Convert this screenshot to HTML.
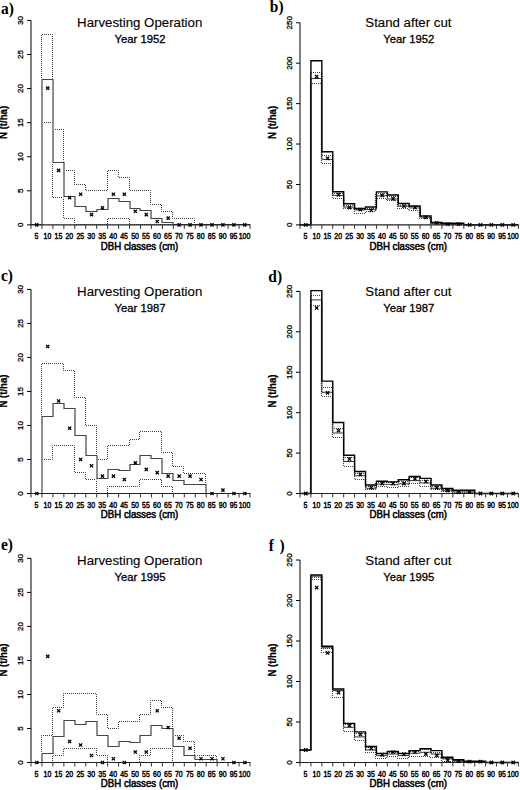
<!DOCTYPE html><html><head><meta charset="utf-8"><style>html,body{margin:0;padding:0;background:#fff;}svg{display:block;}text{font-family:"Liberation Sans",sans-serif;}</style></head><body>
<svg width="520" height="790" viewBox="0 0 520 790">
<rect width="520" height="790" fill="#fff"/>
<g><text transform="translate(23 224.9) rotate(-90)" font-size="8" stroke="#000" stroke-width="0.3" text-anchor="middle">0</text><text transform="translate(23 190.82) rotate(-90)" font-size="8" stroke="#000" stroke-width="0.3" text-anchor="middle">5</text><text transform="translate(23 156.73) rotate(-90)" font-size="8" stroke="#000" stroke-width="0.3" text-anchor="middle">10</text><text transform="translate(23 122.65) rotate(-90)" font-size="8" stroke="#000" stroke-width="0.3" text-anchor="middle">15</text><text transform="translate(23 88.57) rotate(-90)" font-size="8" stroke="#000" stroke-width="0.3" text-anchor="middle">20</text><text transform="translate(23 54.48) rotate(-90)" font-size="8" stroke="#000" stroke-width="0.3" text-anchor="middle">25</text><text transform="translate(23 20.4) rotate(-90)" font-size="8" stroke="#000" stroke-width="0.3" text-anchor="middle">30</text><text transform="translate(36.48 238.9) scale(0.82 1)" font-size="8.5" stroke="#000" stroke-width="0.45" text-anchor="middle">5</text><text transform="translate(47.43 238.9) scale(0.82 1)" font-size="8.5" stroke="#000" stroke-width="0.45" text-anchor="middle">10</text><text transform="translate(58.38 238.9) scale(0.82 1)" font-size="8.5" stroke="#000" stroke-width="0.45" text-anchor="middle">15</text><text transform="translate(69.32 238.9) scale(0.82 1)" font-size="8.5" stroke="#000" stroke-width="0.45" text-anchor="middle">20</text><text transform="translate(80.27 238.9) scale(0.82 1)" font-size="8.5" stroke="#000" stroke-width="0.45" text-anchor="middle">25</text><text transform="translate(91.22 238.9) scale(0.82 1)" font-size="8.5" stroke="#000" stroke-width="0.45" text-anchor="middle">30</text><text transform="translate(102.17 238.9) scale(0.82 1)" font-size="8.5" stroke="#000" stroke-width="0.45" text-anchor="middle">35</text><text transform="translate(113.12 238.9) scale(0.82 1)" font-size="8.5" stroke="#000" stroke-width="0.45" text-anchor="middle">40</text><text transform="translate(124.07 238.9) scale(0.82 1)" font-size="8.5" stroke="#000" stroke-width="0.45" text-anchor="middle">45</text><text transform="translate(135.03 238.9) scale(0.82 1)" font-size="8.5" stroke="#000" stroke-width="0.45" text-anchor="middle">50</text><text transform="translate(145.97 238.9) scale(0.82 1)" font-size="8.5" stroke="#000" stroke-width="0.45" text-anchor="middle">55</text><text transform="translate(156.92 238.9) scale(0.82 1)" font-size="8.5" stroke="#000" stroke-width="0.45" text-anchor="middle">60</text><text transform="translate(167.87 238.9) scale(0.82 1)" font-size="8.5" stroke="#000" stroke-width="0.45" text-anchor="middle">65</text><text transform="translate(178.82 238.9) scale(0.82 1)" font-size="8.5" stroke="#000" stroke-width="0.45" text-anchor="middle">70</text><text transform="translate(189.77 238.9) scale(0.82 1)" font-size="8.5" stroke="#000" stroke-width="0.45" text-anchor="middle">75</text><text transform="translate(200.72 238.9) scale(0.82 1)" font-size="8.5" stroke="#000" stroke-width="0.45" text-anchor="middle">80</text><text transform="translate(211.67 238.9) scale(0.82 1)" font-size="8.5" stroke="#000" stroke-width="0.45" text-anchor="middle">85</text><text transform="translate(222.62 238.9) scale(0.82 1)" font-size="8.5" stroke="#000" stroke-width="0.45" text-anchor="middle">90</text><text transform="translate(233.57 238.9) scale(0.82 1)" font-size="8.5" stroke="#000" stroke-width="0.45" text-anchor="middle">95</text><text transform="translate(244.52 238.9) scale(0.82 1)" font-size="8.5" stroke="#000" stroke-width="0.45" text-anchor="middle">100</text><text transform="translate(139.5 249.5) scale(0.97 1)" font-size="10" stroke="#000" stroke-width="0.5" text-anchor="middle">DBH classes (cm)</text><text transform="translate(7.4 122.4) rotate(-90) scale(0.96 1)" font-size="10" font-weight="bold" stroke="#000" stroke-width="0.25" text-anchor="middle">N (t/ha)</text><text x="139.7" y="27.2" font-size="13.25" stroke="#000" stroke-width="0.12" text-anchor="middle">Harvesting Operation</text><text x="140.1" y="43" font-size="11.3" stroke="#000" stroke-width="0.3" text-anchor="middle">Year 1952</text><text transform="translate(1 13.9) scale(1 1.12)" font-size="15.5" font-weight="bold" style="font-family:'Liberation Serif',serif">a)</text><path d="M30.5 224.5H41.5V34.5H52.5V129.5H63.5V170.5H74.5V184.5H85.5V190.5H96.5V190.5H107.5V170.5H118.5V177.5H129.5V190.5H139.5V190.5H150.5V204.5H161.5V211.5H172.5V218.5H183.5V218.5H194.5V224.5H205.5V224.5H216.5V224.5H227.5V224.5H238.5V224.5H249.5" stroke="#3a3a3a" stroke-width="1" fill="none" stroke-dasharray="1 1" stroke-dashoffset="0.5"/><path d="M30.5 224.5H41.5V122.5H52.5V197.5H63.5V218.5H74.5V224.5H85.5V224.5H96.5V224.5H107.5V218.5H118.5V218.5H129.5V224.5H139.5V224.5H150.5V224.5H161.5V224.5H172.5V224.5H183.5V224.5H194.5V224.5H205.5V224.5H216.5V224.5H227.5V224.5H238.5V224.5H249.5" stroke="#3a3a3a" stroke-width="1" fill="none" stroke-dasharray="1 1" stroke-dashoffset="0.5"/><path d="M31 224.5H42V79.5H53V162.5H64V196.5H75V206.5H86V211.5H97V209.5H108V198.5H119V201.5H130V208.5H140V210.5H151V218.5H162V222.5H173V224.5H184V224.5H195V224.5H206V224.5H217V224.5H228V224.5H239V224.5H250" stroke="#fff" stroke-width="2" fill="none"/><path d="M31 224.5H42V79.5H53V162.5H64V196.5H75V206.5H86V211.5H97V209.5H108V198.5H119V201.5H130V208.5H140V210.5H151V218.5H162V222.5H173V224.5H184V224.5H195V224.5H206V224.5H217V224.5H228V224.5H239V224.5H250" stroke="#444" stroke-width="1.2" fill="none"/><path d="M31 20.4V224.9" stroke="#000" stroke-width="1" fill="none"/><path d="M27 224.9H31M27 190.82H31M27 156.73H31M27 122.65H31M27 88.57H31M27 54.48H31M27 20.4H31" stroke="#000" stroke-width="1" fill="none"/><path d="M30.5 224.9H250.5" stroke="#222" stroke-width="1.2" fill="none"/><path d="M31 224.9V228.9M41.95 224.9V228.9M52.9 224.9V228.9M63.85 224.9V228.9M74.8 224.9V228.9M85.75 224.9V228.9M96.7 224.9V228.9M107.65 224.9V228.9M118.6 224.9V228.9M129.55 224.9V228.9M140.5 224.9V228.9M151.45 224.9V228.9M162.4 224.9V228.9M173.35 224.9V228.9M184.3 224.9V228.9M195.25 224.9V228.9M206.2 224.9V228.9M217.15 224.9V228.9M228.1 224.9V228.9M239.05 224.9V228.9M250 224.9V228.9" stroke="#333" stroke-width="1" fill="none"/><path d="M35.17 223.3l3.2 3.2m0 -3.2l-3.2 3.2M46.12 86.49l3.2 3.2m0 -3.2l-3.2 3.2M57.07 168.77l3.2 3.2m0 -3.2l-3.2 3.2M68.02 196.03l3.2 3.2m0 -3.2l-3.2 3.2M78.97 192.63l3.2 3.2m0 -3.2l-3.2 3.2M89.92 213.08l3.2 3.2m0 -3.2l-3.2 3.2M100.87 206.26l3.2 3.2m0 -3.2l-3.2 3.2M111.82 192.63l3.2 3.2m0 -3.2l-3.2 3.2M122.77 192.63l3.2 3.2m0 -3.2l-3.2 3.2M133.73 209.67l3.2 3.2m0 -3.2l-3.2 3.2M144.68 213.08l3.2 3.2m0 -3.2l-3.2 3.2M155.62 219.89l3.2 3.2m0 -3.2l-3.2 3.2M166.57 216.48l3.2 3.2m0 -3.2l-3.2 3.2M177.53 223.3l3.2 3.2m0 -3.2l-3.2 3.2M188.47 223.3l3.2 3.2m0 -3.2l-3.2 3.2M199.43 223.3l3.2 3.2m0 -3.2l-3.2 3.2M210.38 223.3l3.2 3.2m0 -3.2l-3.2 3.2M221.32 223.3l3.2 3.2m0 -3.2l-3.2 3.2M232.28 223.3l3.2 3.2m0 -3.2l-3.2 3.2M243.22 223.3l3.2 3.2m0 -3.2l-3.2 3.2" stroke="#000" stroke-width="1.3" fill="none"/></g>
<g><text transform="translate(292 224.9) rotate(-90)" font-size="8" stroke="#000" stroke-width="0.3" text-anchor="middle">0</text><text transform="translate(292 184.47) rotate(-90)" font-size="8" stroke="#000" stroke-width="0.3" text-anchor="middle">50</text><text transform="translate(292 144.04) rotate(-90)" font-size="8" stroke="#000" stroke-width="0.3" text-anchor="middle">100</text><text transform="translate(292 103.61) rotate(-90)" font-size="8" stroke="#000" stroke-width="0.3" text-anchor="middle">150</text><text transform="translate(292 63.18) rotate(-90)" font-size="8" stroke="#000" stroke-width="0.3" text-anchor="middle">200</text><text transform="translate(292 22.75) rotate(-90)" font-size="8" stroke="#000" stroke-width="0.3" text-anchor="middle">250</text><text transform="translate(305.46 238.9) scale(0.82 1)" font-size="8.5" stroke="#000" stroke-width="0.45" text-anchor="middle">5</text><text transform="translate(316.38 238.9) scale(0.82 1)" font-size="8.5" stroke="#000" stroke-width="0.45" text-anchor="middle">10</text><text transform="translate(327.3 238.9) scale(0.82 1)" font-size="8.5" stroke="#000" stroke-width="0.45" text-anchor="middle">15</text><text transform="translate(338.22 238.9) scale(0.82 1)" font-size="8.5" stroke="#000" stroke-width="0.45" text-anchor="middle">20</text><text transform="translate(349.14 238.9) scale(0.82 1)" font-size="8.5" stroke="#000" stroke-width="0.45" text-anchor="middle">25</text><text transform="translate(360.06 238.9) scale(0.82 1)" font-size="8.5" stroke="#000" stroke-width="0.45" text-anchor="middle">30</text><text transform="translate(370.98 238.9) scale(0.82 1)" font-size="8.5" stroke="#000" stroke-width="0.45" text-anchor="middle">35</text><text transform="translate(381.9 238.9) scale(0.82 1)" font-size="8.5" stroke="#000" stroke-width="0.45" text-anchor="middle">40</text><text transform="translate(392.82 238.9) scale(0.82 1)" font-size="8.5" stroke="#000" stroke-width="0.45" text-anchor="middle">45</text><text transform="translate(403.74 238.9) scale(0.82 1)" font-size="8.5" stroke="#000" stroke-width="0.45" text-anchor="middle">50</text><text transform="translate(414.66 238.9) scale(0.82 1)" font-size="8.5" stroke="#000" stroke-width="0.45" text-anchor="middle">55</text><text transform="translate(425.58 238.9) scale(0.82 1)" font-size="8.5" stroke="#000" stroke-width="0.45" text-anchor="middle">60</text><text transform="translate(436.5 238.9) scale(0.82 1)" font-size="8.5" stroke="#000" stroke-width="0.45" text-anchor="middle">65</text><text transform="translate(447.42 238.9) scale(0.82 1)" font-size="8.5" stroke="#000" stroke-width="0.45" text-anchor="middle">70</text><text transform="translate(458.34 238.9) scale(0.82 1)" font-size="8.5" stroke="#000" stroke-width="0.45" text-anchor="middle">75</text><text transform="translate(469.26 238.9) scale(0.82 1)" font-size="8.5" stroke="#000" stroke-width="0.45" text-anchor="middle">80</text><text transform="translate(480.18 238.9) scale(0.82 1)" font-size="8.5" stroke="#000" stroke-width="0.45" text-anchor="middle">85</text><text transform="translate(491.1 238.9) scale(0.82 1)" font-size="8.5" stroke="#000" stroke-width="0.45" text-anchor="middle">90</text><text transform="translate(502.02 238.9) scale(0.82 1)" font-size="8.5" stroke="#000" stroke-width="0.45" text-anchor="middle">95</text><text transform="translate(512.94 238.9) scale(0.82 1)" font-size="8.5" stroke="#000" stroke-width="0.45" text-anchor="middle">100</text><text transform="translate(408.2 249.5) scale(0.97 1)" font-size="10" stroke="#000" stroke-width="0.5" text-anchor="middle">DBH classes (cm)</text><text transform="translate(276.4 122.4) rotate(-90) scale(0.96 1)" font-size="10" font-weight="bold" stroke="#000" stroke-width="0.25" text-anchor="middle">N (t/ha)</text><text x="408.4" y="27.2" font-size="13.25" stroke="#000" stroke-width="0.12" text-anchor="middle">Stand after cut</text><text x="408.8" y="43" font-size="11.3" stroke="#000" stroke-width="0.3" text-anchor="middle">Year 1952</text><text transform="translate(269.8 12.1) scale(1 1.12)" font-size="15.5" font-weight="bold" style="font-family:'Liberation Serif',serif">b)</text><path d="M299.5 224.5H310.5V72.5H321.5V155.5H332.5V193.5H343.5V205.5H354.5V209.5H365.5V208.5H375.5V193.5H386.5V196.5H397.5V205.5H408.5V206.5H419.5V216.5H430.5V222.5H441.5V223.5H452.5V223.5H463.5V224.5H474.5V224.5H485.5V224.5H496.5V224.5H506.5V224.5H517.5" stroke="#444" stroke-width="1.2" fill="none" stroke-dasharray="1 1" stroke-dashoffset="0.5"/><path d="M299.5 224.5H310.5V83.5H321.5V163.5H332.5V198.5H343.5V208.5H354.5V213.5H365.5V211.5H375.5V198.5H386.5V200.5H397.5V208.5H408.5V210.5H419.5V218.5H430.5V223.5H441.5V224.5H452.5V224.5H463.5V224.5H474.5V224.5H485.5V224.5H496.5V224.5H506.5V224.5H517.5" stroke="#444" stroke-width="1.2" fill="none" stroke-dasharray="1 1" stroke-dashoffset="0.5"/><path d="M300 224.9H310.92V78.54H321.84V159.4H332.76V195.39H343.68V207.11H354.6V209.94H365.52V209.54H376.44V195.79H387.36V199.02H398.28V206.3H409.2V207.92H420.12V217.22H431.04V223.28H441.96V224.09H452.88V224.09H463.8V224.9H474.72V224.9H485.64V224.9H496.56V224.9H507.48V224.9H518.4" stroke="#222" stroke-width="0.9" fill="none"/><path d="M300 224.9H310.92V60.75H321.84V151.72H332.76V191.75H343.68V203.71H354.6V208.57H365.52V206.95H376.44V191.91H387.36V194.98H398.28V203.55H409.2V206.06H420.12V215.84H431.04V222.39H441.96V223.28H452.88V223.28H463.8V224.9H474.72V224.9H485.64V224.9H496.56V224.9H507.48V224.9H518.4" stroke="#000" stroke-width="1.4" fill="none"/><path d="M300 22.75V224.9" stroke="#000" stroke-width="1" fill="none"/><path d="M296 224.9H300M296 184.47H300M296 144.04H300M296 103.61H300M296 63.18H300M296 22.75H300" stroke="#000" stroke-width="1" fill="none"/><path d="M299.5 224.9H518.9" stroke="#222" stroke-width="1.2" fill="none"/><path d="M300 224.9V228.9M310.92 224.9V228.9M321.84 224.9V228.9M332.76 224.9V228.9M343.68 224.9V228.9M354.6 224.9V228.9M365.52 224.9V228.9M376.44 224.9V228.9M387.36 224.9V228.9M398.28 224.9V228.9M409.2 224.9V228.9M420.12 224.9V228.9M431.04 224.9V228.9M441.96 224.9V228.9M452.88 224.9V228.9M463.8 224.9V228.9M474.72 224.9V228.9M485.64 224.9V228.9M496.56 224.9V228.9M507.48 224.9V228.9M518.4 224.9V228.9" stroke="#333" stroke-width="1" fill="none"/><path d="M304.06 223.2l3.4 3.4m0 -3.4l-3.4 3.4M314.98 74.9l3.4 3.4m0 -3.4l-3.4 3.4M325.9 156.65l3.4 3.4m0 -3.4l-3.4 3.4M336.82 193.04l3.4 3.4m0 -3.4l-3.4 3.4M347.74 205.98l3.4 3.4m0 -3.4l-3.4 3.4M358.66 207.84l3.4 3.4m0 -3.4l-3.4 3.4M369.58 208.73l3.4 3.4m0 -3.4l-3.4 3.4M380.5 193.69l3.4 3.4m0 -3.4l-3.4 3.4M391.42 197.08l3.4 3.4m0 -3.4l-3.4 3.4M402.34 204.36l3.4 3.4m0 -3.4l-3.4 3.4M413.26 205.9l3.4 3.4m0 -3.4l-3.4 3.4M424.18 215.68l3.4 3.4m0 -3.4l-3.4 3.4M435.1 221.26l3.4 3.4m0 -3.4l-3.4 3.4M446.02 222.39l3.4 3.4m0 -3.4l-3.4 3.4M456.94 222.39l3.4 3.4m0 -3.4l-3.4 3.4M467.86 223.2l3.4 3.4m0 -3.4l-3.4 3.4M478.78 223.2l3.4 3.4m0 -3.4l-3.4 3.4M489.7 223.2l3.4 3.4m0 -3.4l-3.4 3.4M500.62 223.2l3.4 3.4m0 -3.4l-3.4 3.4M511.54 223.2l3.4 3.4m0 -3.4l-3.4 3.4" stroke="#000" stroke-width="1.3" fill="none"/></g>
<g><text transform="translate(23 493.5) rotate(-90)" font-size="8" stroke="#000" stroke-width="0.3" text-anchor="middle">0</text><text transform="translate(23 459.48) rotate(-90)" font-size="8" stroke="#000" stroke-width="0.3" text-anchor="middle">5</text><text transform="translate(23 425.47) rotate(-90)" font-size="8" stroke="#000" stroke-width="0.3" text-anchor="middle">10</text><text transform="translate(23 391.45) rotate(-90)" font-size="8" stroke="#000" stroke-width="0.3" text-anchor="middle">15</text><text transform="translate(23 357.43) rotate(-90)" font-size="8" stroke="#000" stroke-width="0.3" text-anchor="middle">20</text><text transform="translate(23 323.42) rotate(-90)" font-size="8" stroke="#000" stroke-width="0.3" text-anchor="middle">25</text><text transform="translate(23 289.4) rotate(-90)" font-size="8" stroke="#000" stroke-width="0.3" text-anchor="middle">30</text><text transform="translate(36.48 507.5) scale(0.82 1)" font-size="8.5" stroke="#000" stroke-width="0.45" text-anchor="middle">5</text><text transform="translate(47.43 507.5) scale(0.82 1)" font-size="8.5" stroke="#000" stroke-width="0.45" text-anchor="middle">10</text><text transform="translate(58.38 507.5) scale(0.82 1)" font-size="8.5" stroke="#000" stroke-width="0.45" text-anchor="middle">15</text><text transform="translate(69.32 507.5) scale(0.82 1)" font-size="8.5" stroke="#000" stroke-width="0.45" text-anchor="middle">20</text><text transform="translate(80.27 507.5) scale(0.82 1)" font-size="8.5" stroke="#000" stroke-width="0.45" text-anchor="middle">25</text><text transform="translate(91.22 507.5) scale(0.82 1)" font-size="8.5" stroke="#000" stroke-width="0.45" text-anchor="middle">30</text><text transform="translate(102.17 507.5) scale(0.82 1)" font-size="8.5" stroke="#000" stroke-width="0.45" text-anchor="middle">35</text><text transform="translate(113.12 507.5) scale(0.82 1)" font-size="8.5" stroke="#000" stroke-width="0.45" text-anchor="middle">40</text><text transform="translate(124.07 507.5) scale(0.82 1)" font-size="8.5" stroke="#000" stroke-width="0.45" text-anchor="middle">45</text><text transform="translate(135.03 507.5) scale(0.82 1)" font-size="8.5" stroke="#000" stroke-width="0.45" text-anchor="middle">50</text><text transform="translate(145.97 507.5) scale(0.82 1)" font-size="8.5" stroke="#000" stroke-width="0.45" text-anchor="middle">55</text><text transform="translate(156.92 507.5) scale(0.82 1)" font-size="8.5" stroke="#000" stroke-width="0.45" text-anchor="middle">60</text><text transform="translate(167.87 507.5) scale(0.82 1)" font-size="8.5" stroke="#000" stroke-width="0.45" text-anchor="middle">65</text><text transform="translate(178.82 507.5) scale(0.82 1)" font-size="8.5" stroke="#000" stroke-width="0.45" text-anchor="middle">70</text><text transform="translate(189.77 507.5) scale(0.82 1)" font-size="8.5" stroke="#000" stroke-width="0.45" text-anchor="middle">75</text><text transform="translate(200.72 507.5) scale(0.82 1)" font-size="8.5" stroke="#000" stroke-width="0.45" text-anchor="middle">80</text><text transform="translate(211.67 507.5) scale(0.82 1)" font-size="8.5" stroke="#000" stroke-width="0.45" text-anchor="middle">85</text><text transform="translate(222.62 507.5) scale(0.82 1)" font-size="8.5" stroke="#000" stroke-width="0.45" text-anchor="middle">90</text><text transform="translate(233.57 507.5) scale(0.82 1)" font-size="8.5" stroke="#000" stroke-width="0.45" text-anchor="middle">95</text><text transform="translate(244.52 507.5) scale(0.82 1)" font-size="8.5" stroke="#000" stroke-width="0.45" text-anchor="middle">100</text><text transform="translate(139.5 518.1) scale(0.97 1)" font-size="10" stroke="#000" stroke-width="0.5" text-anchor="middle">DBH classes (cm)</text><text transform="translate(7.4 391) rotate(-90) scale(0.96 1)" font-size="10" font-weight="bold" stroke="#000" stroke-width="0.25" text-anchor="middle">N (t/ha)</text><text x="139.7" y="296.2" font-size="13.25" stroke="#000" stroke-width="0.12" text-anchor="middle">Harvesting Operation</text><text x="140.1" y="312" font-size="11.3" stroke="#000" stroke-width="0.3" text-anchor="middle">Year 1987</text><text transform="translate(1 281.4) scale(1 1.12)" font-size="15.5" font-weight="bold" style="font-family:'Liberation Serif',serif">c)</text><path d="M30.5 493.5H41.5V363.5H52.5V363.5H63.5V370.5H74.5V397.5H85.5V425.5H96.5V459.5H107.5V445.5H118.5V445.5H129.5V439.5H139.5V431.5H150.5V431.5H161.5V452.5H172.5V466.5H183.5V473.5H194.5V473.5H205.5V493.5H216.5V493.5H227.5V493.5H238.5V493.5H249.5" stroke="#3a3a3a" stroke-width="1" fill="none" stroke-dasharray="1 1" stroke-dashoffset="0.5"/><path d="M30.5 493.5H41.5V459.5H52.5V445.5H63.5V445.5H74.5V472.5H85.5V479.5H96.5V493.5H107.5V486.5H118.5V486.5H129.5V486.5H139.5V479.5H150.5V479.5H161.5V486.5H172.5V493.5H183.5V493.5H194.5V493.5H205.5V493.5H216.5V493.5H227.5V493.5H238.5V493.5H249.5" stroke="#3a3a3a" stroke-width="1" fill="none" stroke-dasharray="1 1" stroke-dashoffset="0.5"/><path d="M31 493.5H42V416.5H53V403.5H64V408.5H75V435.5H86V455.5H97V478.5H108V469.5H119V470.5H130V464.5H140V455.5H151V458.5H162V473.5H173V480.5H184V484.5H195V484.5H206V493.5H217V493.5H228V493.5H239V493.5H250" stroke="#fff" stroke-width="2" fill="none"/><path d="M31 493.5H42V416.5H53V403.5H64V408.5H75V435.5H86V455.5H97V478.5H108V469.5H119V470.5H130V464.5H140V455.5H151V458.5H162V473.5H173V480.5H184V484.5H195V484.5H206V493.5H217V493.5H228V493.5H239V493.5H250" stroke="#444" stroke-width="1.2" fill="none"/><path d="M31 289.4V493.5" stroke="#000" stroke-width="1" fill="none"/><path d="M27 493.5H31M27 459.48H31M27 425.47H31M27 391.45H31M27 357.43H31M27 323.42H31M27 289.4H31" stroke="#000" stroke-width="1" fill="none"/><path d="M30.5 493.5H250.5" stroke="#222" stroke-width="1.2" fill="none"/><path d="M31 493.5V497.5M41.95 493.5V497.5M52.9 493.5V497.5M63.85 493.5V497.5M74.8 493.5V497.5M85.75 493.5V497.5M96.7 493.5V497.5M107.65 493.5V497.5M118.6 493.5V497.5M129.55 493.5V497.5M140.5 493.5V497.5M151.45 493.5V497.5M162.4 493.5V497.5M173.35 493.5V497.5M184.3 493.5V497.5M195.25 493.5V497.5M206.2 493.5V497.5M217.15 493.5V497.5M228.1 493.5V497.5M239.05 493.5V497.5M250 493.5V497.5" stroke="#333" stroke-width="1" fill="none"/><path d="M35.17 491.9l3.2 3.2m0 -3.2l-3.2 3.2M46.12 344.95l3.2 3.2m0 -3.2l-3.2 3.2M57.07 399.37l3.2 3.2m0 -3.2l-3.2 3.2M68.02 426.59l3.2 3.2m0 -3.2l-3.2 3.2M78.97 457.88l3.2 3.2m0 -3.2l-3.2 3.2M89.92 464.21l3.2 3.2m0 -3.2l-3.2 3.2M100.87 474.55l3.2 3.2m0 -3.2l-3.2 3.2M111.82 474.55l3.2 3.2m0 -3.2l-3.2 3.2M122.77 477.95l3.2 3.2m0 -3.2l-3.2 3.2M133.73 461.28l3.2 3.2m0 -3.2l-3.2 3.2M144.68 467.75l3.2 3.2m0 -3.2l-3.2 3.2M155.62 471.01l3.2 3.2m0 -3.2l-3.2 3.2M166.57 474.55l3.2 3.2m0 -3.2l-3.2 3.2M177.53 474.55l3.2 3.2m0 -3.2l-3.2 3.2M188.47 474.55l3.2 3.2m0 -3.2l-3.2 3.2M199.43 477.95l3.2 3.2m0 -3.2l-3.2 3.2M210.38 491.9l3.2 3.2m0 -3.2l-3.2 3.2M221.32 488.5l3.2 3.2m0 -3.2l-3.2 3.2M232.28 491.9l3.2 3.2m0 -3.2l-3.2 3.2M243.22 491.9l3.2 3.2m0 -3.2l-3.2 3.2" stroke="#000" stroke-width="1.3" fill="none"/></g>
<g><text transform="translate(292 493.5) rotate(-90)" font-size="8" stroke="#000" stroke-width="0.3" text-anchor="middle">0</text><text transform="translate(292 453.08) rotate(-90)" font-size="8" stroke="#000" stroke-width="0.3" text-anchor="middle">50</text><text transform="translate(292 412.66) rotate(-90)" font-size="8" stroke="#000" stroke-width="0.3" text-anchor="middle">100</text><text transform="translate(292 372.24) rotate(-90)" font-size="8" stroke="#000" stroke-width="0.3" text-anchor="middle">150</text><text transform="translate(292 331.82) rotate(-90)" font-size="8" stroke="#000" stroke-width="0.3" text-anchor="middle">200</text><text transform="translate(292 291.4) rotate(-90)" font-size="8" stroke="#000" stroke-width="0.3" text-anchor="middle">250</text><text transform="translate(305.46 507.5) scale(0.82 1)" font-size="8.5" stroke="#000" stroke-width="0.45" text-anchor="middle">5</text><text transform="translate(316.38 507.5) scale(0.82 1)" font-size="8.5" stroke="#000" stroke-width="0.45" text-anchor="middle">10</text><text transform="translate(327.3 507.5) scale(0.82 1)" font-size="8.5" stroke="#000" stroke-width="0.45" text-anchor="middle">15</text><text transform="translate(338.22 507.5) scale(0.82 1)" font-size="8.5" stroke="#000" stroke-width="0.45" text-anchor="middle">20</text><text transform="translate(349.14 507.5) scale(0.82 1)" font-size="8.5" stroke="#000" stroke-width="0.45" text-anchor="middle">25</text><text transform="translate(360.06 507.5) scale(0.82 1)" font-size="8.5" stroke="#000" stroke-width="0.45" text-anchor="middle">30</text><text transform="translate(370.98 507.5) scale(0.82 1)" font-size="8.5" stroke="#000" stroke-width="0.45" text-anchor="middle">35</text><text transform="translate(381.9 507.5) scale(0.82 1)" font-size="8.5" stroke="#000" stroke-width="0.45" text-anchor="middle">40</text><text transform="translate(392.82 507.5) scale(0.82 1)" font-size="8.5" stroke="#000" stroke-width="0.45" text-anchor="middle">45</text><text transform="translate(403.74 507.5) scale(0.82 1)" font-size="8.5" stroke="#000" stroke-width="0.45" text-anchor="middle">50</text><text transform="translate(414.66 507.5) scale(0.82 1)" font-size="8.5" stroke="#000" stroke-width="0.45" text-anchor="middle">55</text><text transform="translate(425.58 507.5) scale(0.82 1)" font-size="8.5" stroke="#000" stroke-width="0.45" text-anchor="middle">60</text><text transform="translate(436.5 507.5) scale(0.82 1)" font-size="8.5" stroke="#000" stroke-width="0.45" text-anchor="middle">65</text><text transform="translate(447.42 507.5) scale(0.82 1)" font-size="8.5" stroke="#000" stroke-width="0.45" text-anchor="middle">70</text><text transform="translate(458.34 507.5) scale(0.82 1)" font-size="8.5" stroke="#000" stroke-width="0.45" text-anchor="middle">75</text><text transform="translate(469.26 507.5) scale(0.82 1)" font-size="8.5" stroke="#000" stroke-width="0.45" text-anchor="middle">80</text><text transform="translate(480.18 507.5) scale(0.82 1)" font-size="8.5" stroke="#000" stroke-width="0.45" text-anchor="middle">85</text><text transform="translate(491.1 507.5) scale(0.82 1)" font-size="8.5" stroke="#000" stroke-width="0.45" text-anchor="middle">90</text><text transform="translate(502.02 507.5) scale(0.82 1)" font-size="8.5" stroke="#000" stroke-width="0.45" text-anchor="middle">95</text><text transform="translate(512.94 507.5) scale(0.82 1)" font-size="8.5" stroke="#000" stroke-width="0.45" text-anchor="middle">100</text><text transform="translate(408.2 518.1) scale(0.97 1)" font-size="10" stroke="#000" stroke-width="0.5" text-anchor="middle">DBH classes (cm)</text><text transform="translate(276.4 391) rotate(-90) scale(0.96 1)" font-size="10" font-weight="bold" stroke="#000" stroke-width="0.25" text-anchor="middle">N (t/ha)</text><text x="408.4" y="296.2" font-size="13.25" stroke="#000" stroke-width="0.12" text-anchor="middle">Stand after cut</text><text x="408.8" y="312" font-size="11.3" stroke="#000" stroke-width="0.3" text-anchor="middle">Year 1987</text><text transform="translate(268.3 281.6) scale(1 1.12)" font-size="15.5" font-weight="bold" style="font-family:'Liberation Serif',serif">d)</text><path d="M299.5 493.5H310.5V295.5H321.5V387.5H332.5V428.5H343.5V457.5H354.5V473.5H365.5V486.5H375.5V482.5H386.5V482.5H397.5V481.5H408.5V477.5H419.5V480.5H430.5V486.5H441.5V489.5H452.5V490.5H463.5V490.5H474.5V493.5H485.5V493.5H496.5V493.5H506.5V493.5H517.5" stroke="#444" stroke-width="1.2" fill="none" stroke-dasharray="1 1" stroke-dashoffset="0.5"/><path d="M299.5 493.5H310.5V305.5H321.5V396.5H332.5V437.5H343.5V466.5H354.5V479.5H365.5V489.5H375.5V486.5H386.5V487.5H397.5V486.5H408.5V483.5H419.5V486.5H430.5V489.5H441.5V491.5H452.5V492.5H463.5V492.5H474.5V493.5H485.5V493.5H496.5V493.5H506.5V493.5H517.5" stroke="#444" stroke-width="1.2" fill="none" stroke-dasharray="1 1" stroke-dashoffset="0.5"/><path d="M300 493.5H310.92V299.89H321.84V392.29H332.76V433.03H343.68V461.49H354.6V475.72H365.52V488.25H376.44V484.2H387.36V484.61H398.28V483.8H409.2V480.57H420.12V482.99H431.04V488.25H441.96V490.67H452.88V491.88H463.8V491.88H474.72V493.5H485.64V493.5H496.56V493.5H507.48V493.5H518.4" stroke="#222" stroke-width="0.9" fill="none"/><path d="M300 493.5H310.92V290.59H321.84V381.13H332.76V422.44H343.68V455.18H354.6V471.51H365.52V485.01H376.44V481.21H387.36V481.86H398.28V479.76H409.2V476.52H420.12V478.38H431.04V485.01H441.96V488.49H452.88V490.27H463.8V490.27H474.72V493.5H485.64V493.5H496.56V493.5H507.48V493.5H518.4" stroke="#000" stroke-width="1.4" fill="none"/><path d="M300 291.4V493.5" stroke="#000" stroke-width="1" fill="none"/><path d="M296 493.5H300M296 453.08H300M296 412.66H300M296 372.24H300M296 331.82H300M296 291.4H300" stroke="#000" stroke-width="1" fill="none"/><path d="M299.5 493.5H518.9" stroke="#222" stroke-width="1.2" fill="none"/><path d="M300 493.5V497.5M310.92 493.5V497.5M321.84 493.5V497.5M332.76 493.5V497.5M343.68 493.5V497.5M354.6 493.5V497.5M365.52 493.5V497.5M376.44 493.5V497.5M387.36 493.5V497.5M398.28 493.5V497.5M409.2 493.5V497.5M420.12 493.5V497.5M431.04 493.5V497.5M441.96 493.5V497.5M452.88 493.5V497.5M463.8 493.5V497.5M474.72 493.5V497.5M485.64 493.5V497.5M496.56 493.5V497.5M507.48 493.5V497.5M518.4 493.5V497.5" stroke="#333" stroke-width="1" fill="none"/><path d="M304.06 491.8l3.4 3.4m0 -3.4l-3.4 3.4M314.98 306.19l3.4 3.4m0 -3.4l-3.4 3.4M325.9 391.15l3.4 3.4m0 -3.4l-3.4 3.4M336.82 428.91l3.4 3.4m0 -3.4l-3.4 3.4M347.74 457.36l3.4 3.4m0 -3.4l-3.4 3.4M358.66 472.72l3.4 3.4m0 -3.4l-3.4 3.4M369.58 485.82l3.4 3.4m0 -3.4l-3.4 3.4M380.5 481.78l3.4 3.4m0 -3.4l-3.4 3.4M391.42 481.78l3.4 3.4m0 -3.4l-3.4 3.4M402.34 481.78l3.4 3.4m0 -3.4l-3.4 3.4M413.26 477.01l3.4 3.4m0 -3.4l-3.4 3.4M424.18 479.75l3.4 3.4m0 -3.4l-3.4 3.4M435.1 486.06l3.4 3.4m0 -3.4l-3.4 3.4M446.02 488.89l3.4 3.4m0 -3.4l-3.4 3.4M456.94 490.59l3.4 3.4m0 -3.4l-3.4 3.4M467.86 490.18l3.4 3.4m0 -3.4l-3.4 3.4M478.78 491.8l3.4 3.4m0 -3.4l-3.4 3.4M489.7 491.8l3.4 3.4m0 -3.4l-3.4 3.4M500.62 491.8l3.4 3.4m0 -3.4l-3.4 3.4M511.54 491.8l3.4 3.4m0 -3.4l-3.4 3.4" stroke="#000" stroke-width="1.3" fill="none"/></g>
<g><text transform="translate(23 762.5) rotate(-90)" font-size="8" stroke="#000" stroke-width="0.3" text-anchor="middle">0</text><text transform="translate(23 728.48) rotate(-90)" font-size="8" stroke="#000" stroke-width="0.3" text-anchor="middle">5</text><text transform="translate(23 694.47) rotate(-90)" font-size="8" stroke="#000" stroke-width="0.3" text-anchor="middle">10</text><text transform="translate(23 660.45) rotate(-90)" font-size="8" stroke="#000" stroke-width="0.3" text-anchor="middle">15</text><text transform="translate(23 626.43) rotate(-90)" font-size="8" stroke="#000" stroke-width="0.3" text-anchor="middle">20</text><text transform="translate(23 592.42) rotate(-90)" font-size="8" stroke="#000" stroke-width="0.3" text-anchor="middle">25</text><text transform="translate(23 558.4) rotate(-90)" font-size="8" stroke="#000" stroke-width="0.3" text-anchor="middle">30</text><text transform="translate(36.48 776.5) scale(0.82 1)" font-size="8.5" stroke="#000" stroke-width="0.45" text-anchor="middle">5</text><text transform="translate(47.43 776.5) scale(0.82 1)" font-size="8.5" stroke="#000" stroke-width="0.45" text-anchor="middle">10</text><text transform="translate(58.38 776.5) scale(0.82 1)" font-size="8.5" stroke="#000" stroke-width="0.45" text-anchor="middle">15</text><text transform="translate(69.32 776.5) scale(0.82 1)" font-size="8.5" stroke="#000" stroke-width="0.45" text-anchor="middle">20</text><text transform="translate(80.27 776.5) scale(0.82 1)" font-size="8.5" stroke="#000" stroke-width="0.45" text-anchor="middle">25</text><text transform="translate(91.22 776.5) scale(0.82 1)" font-size="8.5" stroke="#000" stroke-width="0.45" text-anchor="middle">30</text><text transform="translate(102.17 776.5) scale(0.82 1)" font-size="8.5" stroke="#000" stroke-width="0.45" text-anchor="middle">35</text><text transform="translate(113.12 776.5) scale(0.82 1)" font-size="8.5" stroke="#000" stroke-width="0.45" text-anchor="middle">40</text><text transform="translate(124.07 776.5) scale(0.82 1)" font-size="8.5" stroke="#000" stroke-width="0.45" text-anchor="middle">45</text><text transform="translate(135.03 776.5) scale(0.82 1)" font-size="8.5" stroke="#000" stroke-width="0.45" text-anchor="middle">50</text><text transform="translate(145.97 776.5) scale(0.82 1)" font-size="8.5" stroke="#000" stroke-width="0.45" text-anchor="middle">55</text><text transform="translate(156.92 776.5) scale(0.82 1)" font-size="8.5" stroke="#000" stroke-width="0.45" text-anchor="middle">60</text><text transform="translate(167.87 776.5) scale(0.82 1)" font-size="8.5" stroke="#000" stroke-width="0.45" text-anchor="middle">65</text><text transform="translate(178.82 776.5) scale(0.82 1)" font-size="8.5" stroke="#000" stroke-width="0.45" text-anchor="middle">70</text><text transform="translate(189.77 776.5) scale(0.82 1)" font-size="8.5" stroke="#000" stroke-width="0.45" text-anchor="middle">75</text><text transform="translate(200.72 776.5) scale(0.82 1)" font-size="8.5" stroke="#000" stroke-width="0.45" text-anchor="middle">80</text><text transform="translate(211.67 776.5) scale(0.82 1)" font-size="8.5" stroke="#000" stroke-width="0.45" text-anchor="middle">85</text><text transform="translate(222.62 776.5) scale(0.82 1)" font-size="8.5" stroke="#000" stroke-width="0.45" text-anchor="middle">90</text><text transform="translate(233.57 776.5) scale(0.82 1)" font-size="8.5" stroke="#000" stroke-width="0.45" text-anchor="middle">95</text><text transform="translate(244.52 776.5) scale(0.82 1)" font-size="8.5" stroke="#000" stroke-width="0.45" text-anchor="middle">100</text><text transform="translate(139.5 787.1) scale(0.97 1)" font-size="10" stroke="#000" stroke-width="0.5" text-anchor="middle">DBH classes (cm)</text><text transform="translate(7.4 660) rotate(-90) scale(0.96 1)" font-size="10" font-weight="bold" stroke="#000" stroke-width="0.25" text-anchor="middle">N (t/ha)</text><text x="139.7" y="565.2" font-size="13.25" stroke="#000" stroke-width="0.12" text-anchor="middle">Harvesting Operation</text><text x="140.1" y="581" font-size="11.3" stroke="#000" stroke-width="0.3" text-anchor="middle">Year 1995</text><text transform="translate(1 550.1) scale(1 1.12)" font-size="15.5" font-weight="bold" style="font-family:'Liberation Serif',serif">e)</text><path d="M30.5 762.5H41.5V735.5H52.5V707.5H63.5V693.5H74.5V693.5H85.5V693.5H96.5V714.5H107.5V728.5H118.5V721.5H129.5V721.5H139.5V714.5H150.5V700.5H161.5V707.5H172.5V735.5H183.5V741.5H194.5V755.5H205.5V755.5H216.5V762.5H227.5V762.5H238.5V762.5H249.5" stroke="#3a3a3a" stroke-width="1" fill="none" stroke-dasharray="1 1" stroke-dashoffset="0.5"/><path d="M30.5 762.5H41.5V762.5H52.5V755.5H63.5V748.5H74.5V748.5H85.5V748.5H96.5V755.5H107.5V762.5H118.5V762.5H129.5V762.5H139.5V755.5H150.5V748.5H161.5V748.5H172.5V762.5H183.5V762.5H194.5V762.5H205.5V762.5H216.5V762.5H227.5V762.5H238.5V762.5H249.5" stroke="#3a3a3a" stroke-width="1" fill="none" stroke-dasharray="1 1" stroke-dashoffset="0.5"/><path d="M31 762.5H42V753.5H53V736.5H64V720.5H75V724.5H86V721.5H97V735.5H108V746.5H119V741.5H130V742.5H140V735.5H151V725.5H162V728.5H173V746.5H184V755.5H195V759.5H206V759.5H217V762.5H228V762.5H239V762.5H250" stroke="#fff" stroke-width="2" fill="none"/><path d="M31 762.5H42V753.5H53V736.5H64V720.5H75V724.5H86V721.5H97V735.5H108V746.5H119V741.5H130V742.5H140V735.5H151V725.5H162V728.5H173V746.5H184V755.5H195V759.5H206V759.5H217V762.5H228V762.5H239V762.5H250" stroke="#444" stroke-width="1.2" fill="none"/><path d="M31 558.4V762.5" stroke="#000" stroke-width="1" fill="none"/><path d="M27 762.5H31M27 728.48H31M27 694.47H31M27 660.45H31M27 626.43H31M27 592.42H31M27 558.4H31" stroke="#000" stroke-width="1" fill="none"/><path d="M30.5 762.5H250.5" stroke="#222" stroke-width="1.2" fill="none"/><path d="M31 762.5V766.5M41.95 762.5V766.5M52.9 762.5V766.5M63.85 762.5V766.5M74.8 762.5V766.5M85.75 762.5V766.5M96.7 762.5V766.5M107.65 762.5V766.5M118.6 762.5V766.5M129.55 762.5V766.5M140.5 762.5V766.5M151.45 762.5V766.5M162.4 762.5V766.5M173.35 762.5V766.5M184.3 762.5V766.5M195.25 762.5V766.5M206.2 762.5V766.5M217.15 762.5V766.5M228.1 762.5V766.5M239.05 762.5V766.5M250 762.5V766.5" stroke="#333" stroke-width="1" fill="none"/><path d="M35.17 760.9l3.2 3.2m0 -3.2l-3.2 3.2M46.12 654.77l3.2 3.2m0 -3.2l-3.2 3.2M57.07 709.19l3.2 3.2m0 -3.2l-3.2 3.2M68.02 739.88l3.2 3.2m0 -3.2l-3.2 3.2M78.97 743.42l3.2 3.2m0 -3.2l-3.2 3.2M89.92 753.89l3.2 3.2m0 -3.2l-3.2 3.2M100.87 760.9l3.2 3.2m0 -3.2l-3.2 3.2M111.82 757.16l3.2 3.2m0 -3.2l-3.2 3.2M122.77 760.9l3.2 3.2m0 -3.2l-3.2 3.2M133.73 750.42l3.2 3.2m0 -3.2l-3.2 3.2M144.68 750.42l3.2 3.2m0 -3.2l-3.2 3.2M155.62 709.19l3.2 3.2m0 -3.2l-3.2 3.2M166.57 725.86l3.2 3.2m0 -3.2l-3.2 3.2M177.53 736.61l3.2 3.2m0 -3.2l-3.2 3.2M188.47 746.61l3.2 3.2m0 -3.2l-3.2 3.2M199.43 757.16l3.2 3.2m0 -3.2l-3.2 3.2M210.38 757.16l3.2 3.2m0 -3.2l-3.2 3.2M221.32 757.16l3.2 3.2m0 -3.2l-3.2 3.2M232.28 760.9l3.2 3.2m0 -3.2l-3.2 3.2M243.22 760.9l3.2 3.2m0 -3.2l-3.2 3.2" stroke="#000" stroke-width="1.3" fill="none"/></g>
<g><text transform="translate(292 762.5) rotate(-90)" font-size="8" stroke="#000" stroke-width="0.3" text-anchor="middle">0</text><text transform="translate(292 722) rotate(-90)" font-size="8" stroke="#000" stroke-width="0.3" text-anchor="middle">50</text><text transform="translate(292 681.5) rotate(-90)" font-size="8" stroke="#000" stroke-width="0.3" text-anchor="middle">100</text><text transform="translate(292 641) rotate(-90)" font-size="8" stroke="#000" stroke-width="0.3" text-anchor="middle">150</text><text transform="translate(292 600.5) rotate(-90)" font-size="8" stroke="#000" stroke-width="0.3" text-anchor="middle">200</text><text transform="translate(292 560) rotate(-90)" font-size="8" stroke="#000" stroke-width="0.3" text-anchor="middle">250</text><text transform="translate(305.46 776.5) scale(0.82 1)" font-size="8.5" stroke="#000" stroke-width="0.45" text-anchor="middle">5</text><text transform="translate(316.38 776.5) scale(0.82 1)" font-size="8.5" stroke="#000" stroke-width="0.45" text-anchor="middle">10</text><text transform="translate(327.3 776.5) scale(0.82 1)" font-size="8.5" stroke="#000" stroke-width="0.45" text-anchor="middle">15</text><text transform="translate(338.22 776.5) scale(0.82 1)" font-size="8.5" stroke="#000" stroke-width="0.45" text-anchor="middle">20</text><text transform="translate(349.14 776.5) scale(0.82 1)" font-size="8.5" stroke="#000" stroke-width="0.45" text-anchor="middle">25</text><text transform="translate(360.06 776.5) scale(0.82 1)" font-size="8.5" stroke="#000" stroke-width="0.45" text-anchor="middle">30</text><text transform="translate(370.98 776.5) scale(0.82 1)" font-size="8.5" stroke="#000" stroke-width="0.45" text-anchor="middle">35</text><text transform="translate(381.9 776.5) scale(0.82 1)" font-size="8.5" stroke="#000" stroke-width="0.45" text-anchor="middle">40</text><text transform="translate(392.82 776.5) scale(0.82 1)" font-size="8.5" stroke="#000" stroke-width="0.45" text-anchor="middle">45</text><text transform="translate(403.74 776.5) scale(0.82 1)" font-size="8.5" stroke="#000" stroke-width="0.45" text-anchor="middle">50</text><text transform="translate(414.66 776.5) scale(0.82 1)" font-size="8.5" stroke="#000" stroke-width="0.45" text-anchor="middle">55</text><text transform="translate(425.58 776.5) scale(0.82 1)" font-size="8.5" stroke="#000" stroke-width="0.45" text-anchor="middle">60</text><text transform="translate(436.5 776.5) scale(0.82 1)" font-size="8.5" stroke="#000" stroke-width="0.45" text-anchor="middle">65</text><text transform="translate(447.42 776.5) scale(0.82 1)" font-size="8.5" stroke="#000" stroke-width="0.45" text-anchor="middle">70</text><text transform="translate(458.34 776.5) scale(0.82 1)" font-size="8.5" stroke="#000" stroke-width="0.45" text-anchor="middle">75</text><text transform="translate(469.26 776.5) scale(0.82 1)" font-size="8.5" stroke="#000" stroke-width="0.45" text-anchor="middle">80</text><text transform="translate(480.18 776.5) scale(0.82 1)" font-size="8.5" stroke="#000" stroke-width="0.45" text-anchor="middle">85</text><text transform="translate(491.1 776.5) scale(0.82 1)" font-size="8.5" stroke="#000" stroke-width="0.45" text-anchor="middle">90</text><text transform="translate(502.02 776.5) scale(0.82 1)" font-size="8.5" stroke="#000" stroke-width="0.45" text-anchor="middle">95</text><text transform="translate(512.94 776.5) scale(0.82 1)" font-size="8.5" stroke="#000" stroke-width="0.45" text-anchor="middle">100</text><text transform="translate(408.2 787.1) scale(0.97 1)" font-size="10" stroke="#000" stroke-width="0.5" text-anchor="middle">DBH classes (cm)</text><text transform="translate(276.4 660) rotate(-90) scale(0.96 1)" font-size="10" font-weight="bold" stroke="#000" stroke-width="0.25" text-anchor="middle">N (t/ha)</text><text x="408.4" y="565.2" font-size="13.25" stroke="#000" stroke-width="0.12" text-anchor="middle">Stand after cut</text><text x="408.8" y="581" font-size="11.3" stroke="#000" stroke-width="0.3" text-anchor="middle">Year 1995</text><text transform="translate(268.8 550.9) scale(1 1.12)" font-size="15.5" font-weight="bold" style="font-family:'Liberation Serif',serif">f<tspan dx="5.5">)</tspan></text><path d="M299.5 750.5H310.5V577.5H321.5V648.5H332.5V690.5H343.5V724.5H354.5V733.5H365.5V747.5H375.5V753.5H386.5V752.5H397.5V753.5H408.5V751.5H419.5V749.5H430.5V752.5H441.5V758.5H452.5V760.5H463.5V761.5H474.5V761.5H485.5V762.5H496.5V762.5H506.5V762.5H517.5" stroke="#444" stroke-width="1.2" fill="none" stroke-dasharray="1 1" stroke-dashoffset="0.5"/><path d="M299.5 750.5H310.5V579.5H321.5V652.5H332.5V697.5H343.5V731.5H354.5V740.5H365.5V752.5H375.5V758.5H386.5V756.5H397.5V758.5H408.5V756.5H419.5V756.5H430.5V757.5H441.5V761.5H452.5V761.5H463.5V762.5H474.5V762.5H485.5V762.5H496.5V762.5H506.5V762.5H517.5" stroke="#444" stroke-width="1.2" fill="none" stroke-dasharray="1 1" stroke-dashoffset="0.5"/><path d="M300 750.03H310.92V576.2H321.84V647.72H332.76V690.65H343.68V727.26H354.6V736.9H365.52V750.03H376.44V755.62H387.36V754H398.28V755.62H409.2V753.18H420.12V752.29H431.04V754H441.96V758.86H452.88V760.88H463.8V761.85H474.72V761.85H485.64V762.5H496.56V762.5H507.48V762.5H518.4" stroke="#222" stroke-width="0.9" fill="none"/><path d="M300 750.03H310.92V574.99H321.84V646.26H332.76V689.03H343.68V723.38H354.6V731.88H365.52V746.5H376.44V753.51H387.36V751.48H398.28V753.51H409.2V750.59H420.12V748.73H431.04V750.59H441.96V757.24H452.88V759.75H463.8V761.28H474.72V761.28H485.64V762.5H496.56V762.5H507.48V762.5H518.4" stroke="#000" stroke-width="1.4" fill="none"/><path d="M300 560V762.5" stroke="#000" stroke-width="1" fill="none"/><path d="M296 762.5H300M296 722H300M296 681.5H300M296 641H300M296 600.5H300M296 560H300" stroke="#000" stroke-width="1" fill="none"/><path d="M299.5 762.5H518.9" stroke="#222" stroke-width="1.2" fill="none"/><path d="M300 762.5V766.5M310.92 762.5V766.5M321.84 762.5V766.5M332.76 762.5V766.5M343.68 762.5V766.5M354.6 762.5V766.5M365.52 762.5V766.5M376.44 762.5V766.5M387.36 762.5V766.5M398.28 762.5V766.5M409.2 762.5V766.5M420.12 762.5V766.5M431.04 762.5V766.5M441.96 762.5V766.5M452.88 762.5V766.5M463.8 762.5V766.5M474.72 762.5V766.5M485.64 762.5V766.5M496.56 762.5V766.5M507.48 762.5V766.5M518.4 762.5V766.5" stroke="#333" stroke-width="1" fill="none"/><path d="M304.06 748.33l3.4 3.4m0 -3.4l-3.4 3.4M314.98 585.84l3.4 3.4m0 -3.4l-3.4 3.4M325.9 651.21l3.4 3.4m0 -3.4l-3.4 3.4M336.82 690.82l3.4 3.4m0 -3.4l-3.4 3.4M347.74 723.94l3.4 3.4m0 -3.4l-3.4 3.4M358.66 732.69l3.4 3.4m0 -3.4l-3.4 3.4M369.58 746.62l3.4 3.4m0 -3.4l-3.4 3.4M380.5 753.02l3.4 3.4m0 -3.4l-3.4 3.4M391.42 750.51l3.4 3.4m0 -3.4l-3.4 3.4M402.34 752.46l3.4 3.4m0 -3.4l-3.4 3.4M413.26 750.51l3.4 3.4m0 -3.4l-3.4 3.4M424.18 752.29l3.4 3.4m0 -3.4l-3.4 3.4M435.1 753.67l3.4 3.4m0 -3.4l-3.4 3.4M446.02 758.53l3.4 3.4m0 -3.4l-3.4 3.4M456.94 759.34l3.4 3.4m0 -3.4l-3.4 3.4M467.86 759.99l3.4 3.4m0 -3.4l-3.4 3.4M478.78 759.99l3.4 3.4m0 -3.4l-3.4 3.4M489.7 760.8l3.4 3.4m0 -3.4l-3.4 3.4M500.62 760.8l3.4 3.4m0 -3.4l-3.4 3.4M511.54 760.8l3.4 3.4m0 -3.4l-3.4 3.4" stroke="#000" stroke-width="1.3" fill="none"/></g>
</svg></body></html>
